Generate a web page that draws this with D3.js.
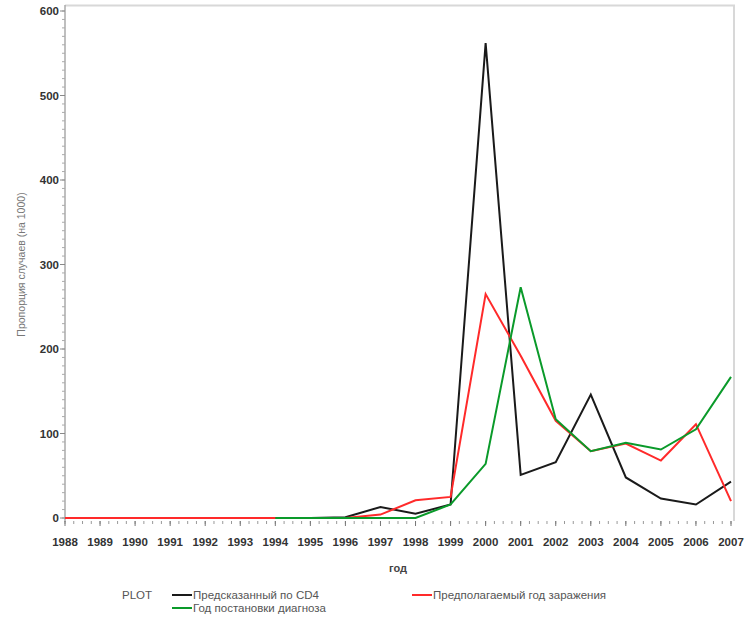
<!DOCTYPE html>
<html>
<head>
<meta charset="utf-8">
<script src="https://cdn.jsdelivr.net/npm/d3@7"></script>
<style>
  body { margin: 0; background: #fff; }
  svg { display: block; font-family: 'Liberation Sans', Arial, sans-serif; }
</style>
</head>
<body>
<div id="chart"></div>
<script>
const years = d3.range(1988, 2008);
const yTicks = [0, 100, 200, 300, 400, 500, 600];

// years 1994..2007
const cd4Years = d3.range(1994, 2008);
const cd4Values = [0, 0, 1, 13, 5, 16, 562, 51, 66, 146, 48, 23, 16, 43];

// years 1988..2007
const infectionYears = d3.range(1988, 2008);
const infectionValues = [0, 0, 0, 0, 0, 0, 0, 0, 0, 4, 21, 25, 265, 192, 115, 79, 88, 68, 111, 20];

// years 1994..2007
const diagnosisYears = d3.range(1994, 2008);
const diagnosisValues = [0, 0, 0, 0, 0, 16, 64, 273, 117, 79, 89, 81, 105, 167];

const seriesNames = ['Предсказанный по CD4', 'Предполагаемый год заражения', 'Год постановки диагноза'];

const width = 748;
const height = 620;
const margin = { top: 11, left: 65, right: 17, bottom: 102 };

const svg = d3.select('#chart')
  .append('svg')
  .attr('width', width)
  .attr('height', height);

const x = d3.scaleLinear()
  .domain([1988, 2007])
  .range([margin.left, width - margin.right]);

const y = d3.scaleLinear()
  .domain([0, 600])
  .range([height - margin.bottom, margin.top]);

// frame (top and right, light gray)
svg.append('path')
  .attr('d', `M${margin.left},5.5 H734 V521`)
  .attr('fill', 'none')
  .attr('stroke', '#d8d8d8')
  .attr('stroke-width', 2);

// y axis
const yAxis = svg.append('g')
  .attr('transform', `translate(${margin.left},0)`);
yAxis.append('line')
  .attr('x1', 0).attr('x2', 0)
  .attr('y1', 5).attr('y2', 522)
  .attr('stroke', '#aaa').attr('stroke-width', 1.5);
yAxis.selectAll('.minor')
  .data(d3.range(0, 601, 10))
  .join('line')
  .attr('x1', -3).attr('x2', 0)
  .attr('y1', d => y(d)).attr('y2', d => y(d))
  .attr('stroke', '#aaa');
yAxis.selectAll('.major')
  .data(yTicks)
  .join('line')
  .attr('x1', -5).attr('x2', 0)
  .attr('y1', d => y(d)).attr('y2', d => y(d))
  .attr('stroke', '#888');
yAxis.selectAll('text')
  .data(yTicks)
  .join('text')
  .attr('x', -6)
  .attr('y', d => y(d))
  .attr('dy', '0.35em')
  .attr('text-anchor', 'end')
  .attr('font-size', 11.5)
  .attr('font-weight', 'bold')
  .attr('fill', '#333')
  .text(d => d);

// x axis
const axisY = 521;
const xAxis = svg.append('g');
xAxis.selectAll('.minor')
  .data(d3.range(1988, 2007.01, 0.25))
  .join('line')
  .attr('x1', d => x(d)).attr('x2', d => x(d))
  .attr('y1', axisY).attr('y2', axisY + 3)
  .attr('stroke', '#999');
xAxis.selectAll('.major')
  .data(years)
  .join('line')
  .attr('x1', d => x(d)).attr('x2', d => x(d))
  .attr('y1', axisY).attr('y2', axisY + 5)
  .attr('stroke', '#777');
xAxis.selectAll('text')
  .data(years)
  .join('text')
  .attr('x', d => x(d))
  .attr('y', 546)
  .attr('text-anchor', 'middle')
  .attr('font-size', 11.5)
  .attr('font-weight', 'bold')
  .attr('fill', '#333')
  .text(d => d);

// axis titles
svg.append('text')
  .attr('x', 398)
  .attr('y', 572)
  .attr('text-anchor', 'middle')
  .attr('font-size', 11)
  .attr('font-weight', 'bold')
  .attr('fill', '#444')
  .text('год');

svg.append('text')
  .attr('transform', `translate(25,${(y(0) + y(600)) / 2}) rotate(-90)`)
  .attr('text-anchor', 'middle')
  .attr('font-size', 10.5)
  .attr('fill', '#777')
  .text('Пропорция случаев (на 1000)');

// lines
const line = d3.line()
  .x(d => x(d[0]))
  .y(d => y(d[1]));

svg.append('path')
  .datum(d3.zip(cd4Years, cd4Values))
  .attr('d', line)
  .attr('fill', 'none')
  .attr('stroke', '#1a1a1a')
  .attr('stroke-width', 2);
svg.append('path')
  .datum(d3.zip(infectionYears, infectionValues))
  .attr('d', line)
  .attr('fill', 'none')
  .attr('stroke', '#ff2a2a')
  .attr('stroke-width', 2);
svg.append('path')
  .datum(d3.zip(diagnosisYears, diagnosisValues))
  .attr('d', line)
  .attr('fill', 'none')
  .attr('stroke', '#0a9a2a')
  .attr('stroke-width', 2);

// legend
const legend = svg.append('g')
  .attr('font-size', 11.5)
  .attr('fill', '#555');
legend.append('text')
  .attr('x', 122).attr('y', 599)
  .text('PLOT');

const legendItems = [
  { name: seriesNames[0], color: '#1a1a1a', lx: 172, ly: 595 },
  { name: seriesNames[1], color: '#ff2a2a', lx: 412, ly: 595 },
  { name: seriesNames[2], color: '#0a9a2a', lx: 172, ly: 608 }
];
legendItems.forEach(d => {
  legend.append('line')
    .attr('x1', d.lx).attr('x2', d.lx + 20)
    .attr('y1', d.ly).attr('y2', d.ly)
    .attr('stroke', d.color)
    .attr('stroke-width', 2);
  legend.append('text')
    .attr('x', d.lx + 21)
    .attr('y', d.ly + 4)
    .text(d.name);
});
</script>
</body>
</html>
